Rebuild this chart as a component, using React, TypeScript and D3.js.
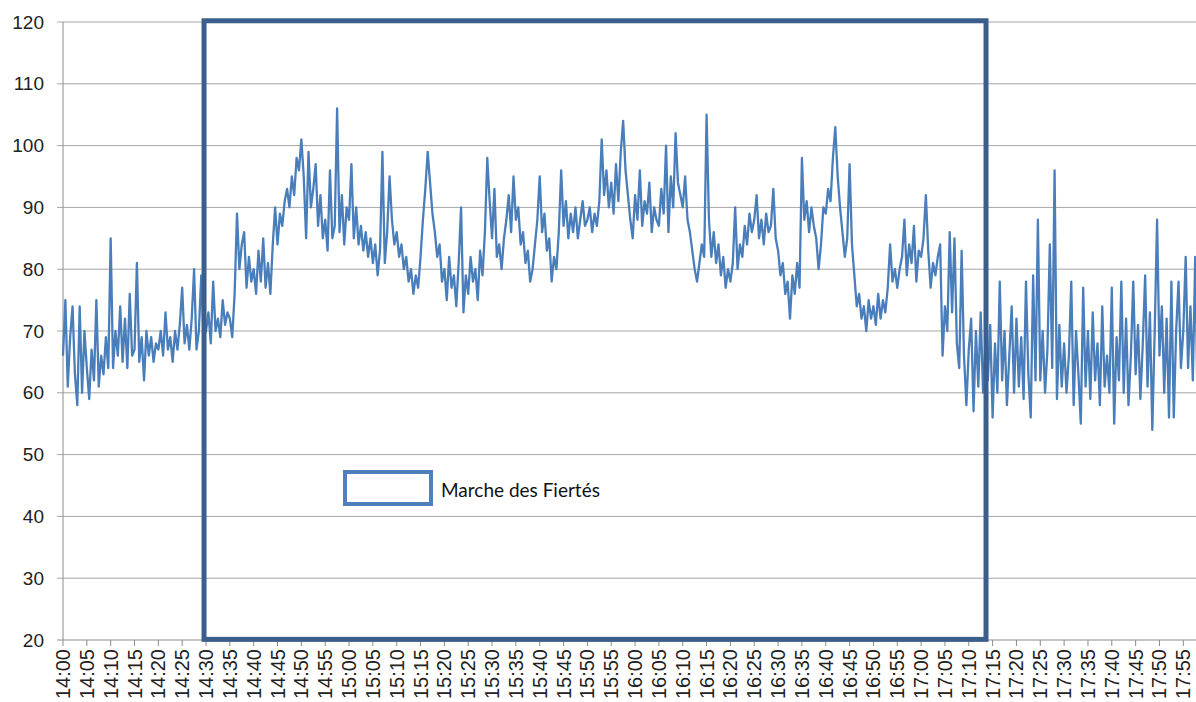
import React, { useEffect, useRef } from 'react';
import * as d3 from 'd3';

// readings every 30 seconds, starting 14:00
const hour14 = [
  66, 75, 61, 69, 74, 63, 58, 74, 60, 70,
  64, 59, 67, 62, 75, 61, 66, 63, 69, 64,
  85, 64, 70, 66, 74, 65, 72, 64, 76, 66,
  67, 81, 65, 69, 62, 70, 66, 69, 65, 68,
  67, 70, 66, 73, 67, 69, 65, 70, 67, 71,
  77, 68, 71, 67, 72, 80, 67, 70, 79, 69,
  70, 73, 68, 78, 70, 72, 69, 75, 71, 73,
  72, 69, 76, 89, 80, 84, 86, 77, 82, 78,
  80, 76, 83, 78, 85, 77, 81, 76, 84, 90,
  84, 89, 87, 91, 93, 90, 95, 92, 98, 96,
  101, 95, 85, 99, 90, 93, 97, 87, 92, 85,
  88, 83, 96, 85, 87, 106, 86, 92, 84, 90,
];
const hour15 = [
  88, 97, 85, 90, 84, 87, 83, 86, 82, 85,
  81, 84, 79, 83, 99, 81, 86, 95, 88, 84,
  86, 82, 84, 80, 82, 78, 80, 76, 79, 77,
  82, 88, 93, 99, 94, 89, 86, 82, 84, 78,
  80, 75, 82, 77, 79, 74, 81, 90, 73, 79,
  76, 82, 78, 80, 75, 83, 79, 86, 98, 91,
  85, 93, 82, 84, 80, 85, 88, 92, 86, 95,
  88, 90, 84, 86, 81, 83, 78, 80, 84, 88,
  95, 86, 89, 83, 85, 78, 82, 80, 86, 96,
  87, 91, 85, 89, 86, 90, 85, 88, 91, 87,
  88, 90, 86, 89, 87, 91, 101, 92, 96, 90,
  94, 89, 97, 91, 99, 104, 96, 92, 88, 85,
];
const hour16 = [
  92, 88, 96, 87, 91, 89, 94, 86, 90, 88,
  87, 93, 89, 100, 86, 95, 90, 102, 94, 92,
  90, 95, 88, 86, 83, 80, 78, 81, 84, 82,
  105, 88, 82, 86, 81, 84, 79, 82, 77, 80,
  78, 81, 90, 80, 84, 82, 87, 84, 89, 86,
  88, 92, 85, 88, 84, 89, 86, 87, 93, 85,
  83, 79, 81, 76, 78, 72, 79, 76, 81, 77,
  98, 88, 91, 86, 90, 87, 85, 80, 84, 90,
  89, 93, 91, 98, 103, 95, 90, 86, 82, 85,
  97, 84, 79, 74, 76, 72, 74, 70, 75, 72,
  74, 71, 76, 72, 75, 73, 77, 84, 78, 80,
  77, 80, 82, 88, 79, 84, 81, 87, 78, 83,
];
const hour17 = [
  82, 85, 92, 83, 77, 81, 79, 82, 84, 66,
  74, 70, 86, 73, 85, 68, 64, 83, 66, 58,
  67, 72, 57, 70, 61, 73, 60, 68, 62, 71,
  56, 68, 60, 78, 62, 70, 58, 66, 74, 60,
  72, 61, 69, 59, 78, 63, 56, 79, 62, 88,
  62, 70, 60, 67, 84, 64, 96, 59, 71, 61,
  68, 60, 66, 78, 58, 70, 63, 55, 77, 61,
  70, 59, 73, 62, 68, 58, 74, 61, 66, 60,
  77, 55, 69, 62, 78, 60, 72, 58, 66, 78,
  63, 71, 59, 68, 79, 61, 73, 54, 70, 88,
  66, 74, 60, 72, 56, 78, 56, 70, 78, 64,
  70, 82, 64, 74, 62, 82, 58,
];

const yTicks = [20, 30, 40, 50, 60, 70, 80, 90, 100, 110, 120];
const legendLabel = 'Marche des Fiertés';

const day = (h, m, s = 0) => new Date(2019, 5, 29, h, m, s);
const eventStart = day(14, 29, 35);
const eventEnd = day(17, 13, 37);

const App = () => {
  const ref = useRef(null);

  useEffect(() => {
    const width = 1196;
    const height = 702;

    const values = [...hour14, ...hour15, ...hour16, ...hour17];
    const data = values.map((v, i) => ({ t: new Date(day(14, 0).getTime() + i * 30000), v }));

    const x = d3.scaleTime().domain([day(14, 0), day(17, 55)]).range([63, 1183.3]);
    const y = d3.scaleLinear().domain([20, 120]).range([640, 22]);

    d3.select(ref.current).selectAll('*').remove();

    const svg = d3.select(ref.current)
      .append('svg')
      .attr('width', width)
      .attr('height', height)
      .style('position', 'absolute')
      .style('left', 0)
      .style('top', 0)
      .style('background', '#fff');

    // horizontal gridlines
    svg.append('g')
      .selectAll('line')
      .data(yTicks)
      .join('line')
      .attr('x1', 57)
      .attr('x2', width)
      .attr('y1', d => y(d))
      .attr('y2', d => y(d))
      .attr('stroke', d => (d === 20 ? '#8c8c8c' : '#a6a6a6'))
      .attr('stroke-width', 1);

    // y axis
    svg.append('line')
      .attr('x1', 63).attr('x2', 63)
      .attr('y1', y(120)).attr('y2', y(20))
      .attr('stroke', '#8c8c8c');

    svg.append('g')
      .selectAll('text')
      .data(yTicks)
      .join('text')
      .attr('x', 44)
      .attr('y', d => y(d) + 6.5)
      .attr('text-anchor', 'end')
      .style('font', '19px "Liberation Sans", sans-serif')
      .attr('fill', '#222')
      .text(d => d);

    // x axis ticks + rotated labels
    const xTicks = d3.timeMinute.every(5).range(day(14, 0), day(17, 55, 1));
    const fmt = d3.timeFormat('%H:%M');
    const xg = svg.append('g');
    xg.selectAll('line')
      .data(xTicks)
      .join('line')
      .attr('x1', d => x(d)).attr('x2', d => x(d))
      .attr('y1', 640).attr('y2', 646)
      .attr('stroke', '#8c8c8c');
    xg.selectAll('text')
      .data(xTicks)
      .join('text')
      .attr('transform', d => `translate(${x(d) + 7},649) rotate(-90)`)
      .attr('text-anchor', 'end')
      .style('font', '20px "Liberation Sans", sans-serif')
      .attr('fill', '#222')
      .text(d => fmt(d));

    // the measurement line
    const line = d3.line()
      .x(d => x(d.t))
      .y(d => y(d.v));

    svg.append('path')
      .datum(data)
      .attr('d', line)
      .attr('fill', 'none')
      .attr('stroke', '#4a7ebb')
      .attr('stroke-width', 2.3)
      .attr('stroke-linejoin', 'round');

    // event box
    svg.append('rect')
      .attr('x', x(eventStart))
      .attr('y', y(120.2))
      .attr('width', x(eventEnd) - x(eventStart))
      .attr('height', y(20.1) - y(120.2))
      .attr('fill', 'none')
      .attr('stroke', '#3b5e8c')
      .attr('stroke-width', 5);

    // legend
    svg.append('rect')
      .attr('x', 345)
      .attr('y', 472)
      .attr('width', 86)
      .attr('height', 32)
      .attr('fill', '#fff')
      .attr('stroke', '#4f81bd')
      .attr('stroke-width', 4);
    svg.append('text')
      .attr('x', 441)
      .attr('y', 497)
      .style('font', '19px Lato, sans-serif')
      .attr('fill', '#111')
      .text(legendLabel);
  }, []);

  return <div ref={ref}></div>;
};

export default App;
